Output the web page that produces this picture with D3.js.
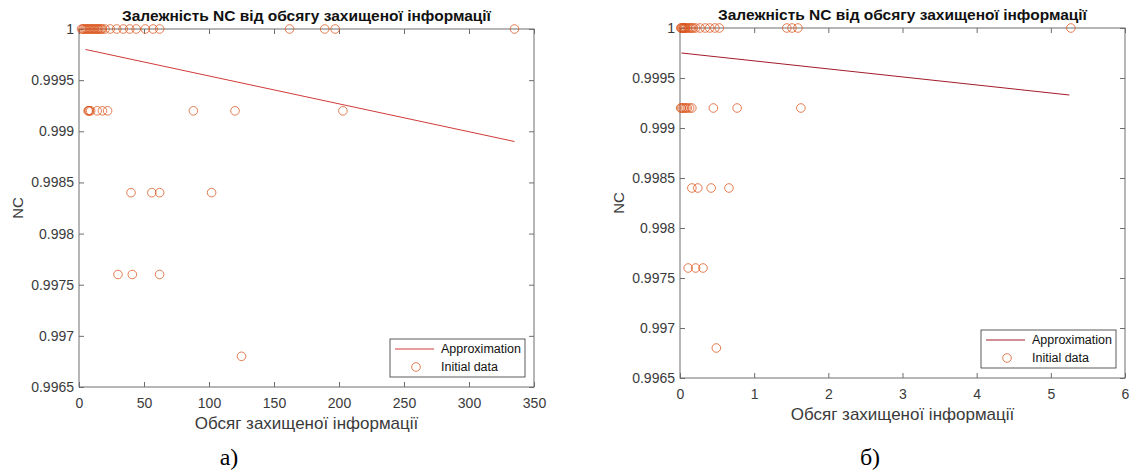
<!DOCTYPE html>
<html>
<head>
<meta charset="utf-8">
<script src="https://cdn.jsdelivr.net/npm/d3@7"></script>
<style>
  body { margin: 0; background: #fff; }
  text { font-family: "Liberation Sans", Arial, sans-serif; }
</style>
</head>
<body>
<svg id="chart" width="1131" height="472"></svg>
<script>
// data
var titleText = "Залежність NC від обсягу захищеної інформації";
var xLabelText = "Обсяг захищеної інформації";
var yLabelText = "NC";

// panel а)
var leftX = [2, 3, 4, 5, 6, 7, 8, 9, 10, 11, 12, 13, 14, 15, 16, 17, 18, 20, 24, 29, 34, 39, 44, 51, 57, 62, 162, 189, 197, 335,
             7, 7.5, 8, 9, 14, 18, 22, 88, 120, 203,
             40, 56, 62, 102,
             30, 41, 62,
             125];
var leftY = [1, 1, 1, 1, 1, 1, 1, 1, 1, 1, 1, 1, 1, 1, 1, 1, 1, 1, 1, 1, 1, 1, 1, 1, 1, 1, 1, 1, 1, 1,
             0.9992, 0.9992, 0.9992, 0.9992, 0.9992, 0.9992, 0.9992, 0.9992, 0.9992, 0.9992,
             0.9984, 0.9984, 0.9984, 0.9984,
             0.9976, 0.9976, 0.9976,
             0.9968];
var leftFitX = [5, 335];
var leftFitY = [0.99980, 0.99890];
var leftXTicks = [0, 50, 100, 150, 200, 250, 300, 350];

// panel б)
var rightX = [0.01, 0.02, 0.03, 0.04, 0.05, 0.06, 0.07, 0.08, 0.10, 0.12, 0.14, 0.16, 0.18, 0.21, 0.27, 0.34, 0.40, 0.47, 0.53, 1.44, 1.51, 1.59, 5.27,
              0.01, 0.02, 0.04, 0.06, 0.08, 0.10, 0.13, 0.16, 0.45, 0.77, 1.63,
              0.16, 0.24, 0.42, 0.66,
              0.11, 0.21, 0.31,
              0.49];
var rightY = [1, 1, 1, 1, 1, 1, 1, 1, 1, 1, 1, 1, 1, 1, 1, 1, 1, 1, 1, 1, 1, 1, 1,
              0.9992, 0.9992, 0.9992, 0.9992, 0.9992, 0.9992, 0.9992, 0.9992, 0.9992, 0.9992, 0.9992,
              0.9984, 0.9984, 0.9984, 0.9984,
              0.9976, 0.9976, 0.9976,
              0.9968];
var rightFitX = [0.02, 5.25];
var rightFitY = [0.99975, 0.99933];
var rightXTicks = [0, 1, 2, 3, 4, 5, 6];

var yTicks = [0.9965, 0.997, 0.9975, 0.998, 0.9985, 0.999, 0.9995, 1];
var legendNames = ["Approximation", "Initial data"];
var panelNames = ["а)", "б)"];

var svg = d3.select("#chart");
var axisColor = "#6e6e6e";
var textColor = "#3a3a3a";
var dotColor = "#D95319";

function drawPanel(cfg) {
  var x = d3.scaleLinear().domain(cfg.xDomain).range([cfg.left, cfg.right]);
  var y = d3.scaleLinear().domain([0.9965, 1]).range([cfg.bottom, cfg.top]);
  var g = svg.append("g");

  // box + ticks (MATLAB style, ticks inward on all sides)
  g.append("rect")
    .attr("x", cfg.left).attr("y", cfg.top)
    .attr("width", cfg.right - cfg.left).attr("height", cfg.bottom - cfg.top)
    .attr("fill", "none").attr("stroke", axisColor).attr("stroke-width", 1);

  var fmtY = function(v) { return String(+v.toFixed(4)); };

  var axB = d3.axisBottom(x).tickValues(cfg.xTicks).tickSize(-5).tickPadding(11).tickFormat(d3.format("d"));
  var axT = d3.axisTop(x).tickValues(cfg.xTicks).tickSize(-5).tickFormat("");
  var axL = d3.axisLeft(y).tickValues(yTicks).tickSize(-5).tickPadding(5).tickFormat(fmtY);
  var axR = d3.axisRight(y).tickValues(yTicks).tickSize(-5).tickFormat("");

  [[axB, "translate(0," + cfg.bottom + ")"], [axT, "translate(0," + cfg.top + ")"],
   [axL, "translate(" + cfg.left + ",0)"], [axR, "translate(" + cfg.right + ",0)"]].forEach(function(a) {
    var ax = g.append("g").attr("transform", a[1]).call(a[0]);
    ax.select(".domain").remove();
    ax.selectAll("line").attr("stroke", axisColor);
    ax.selectAll("text")
      .attr("fill", textColor)
      .style("font-size", "14px")
      .style("font-family", "Liberation Sans, Arial, sans-serif");
  });

  // fit line
  var line = d3.line().x(function(d) { return x(d[0]); }).y(function(d) { return y(d[1]); });
  g.append("path")
    .datum(d3.zip(cfg.fitX, cfg.fitY))
    .attr("d", line)
    .attr("fill", "none")
    .attr("stroke", cfg.lineColor)
    .attr("stroke-width", 1);

  // points
  g.selectAll("circle.pt")
    .data(d3.zip(cfg.xs, cfg.ys))
    .enter().append("circle")
    .attr("class", "pt")
    .attr("cx", function(d) { return x(d[0]); })
    .attr("cy", function(d) { return y(d[1]); })
    .attr("r", 4.3)
    .attr("fill", "none")
    .attr("stroke", dotColor)
    .attr("stroke-opacity", 0.75)
    .attr("stroke-width", 1);

  // title
  g.append("text")
    .attr("x", (cfg.left + cfg.right) / 2).attr("y", cfg.top - 8)
    .attr("text-anchor", "middle")
    .style("font-size", "15.5px").style("font-weight", "bold")
    .attr("fill", "#111")
    .text(titleText);

  // axis labels
  g.append("text")
    .attr("x", (cfg.left + cfg.right) / 2).attr("y", cfg.bottom + 42)
    .attr("text-anchor", "middle")
    .style("font-size", "17px").attr("fill", textColor)
    .text(xLabelText);

  g.append("text")
    .attr("transform", "translate(" + (cfg.left - 56) + "," + ((cfg.top + cfg.bottom) / 2) + ") rotate(-90)")
    .attr("text-anchor", "middle")
    .style("font-size", "15px").attr("fill", textColor)
    .text(yLabelText);

  // legend
  var lw = 135, lh = 38;
  var lx = cfg.right - 9 - lw, ly = cfg.bottom - 10 - lh;
  var lg = g.append("g").attr("transform", "translate(" + lx + "," + ly + ")");
  lg.append("rect").attr("width", lw).attr("height", lh)
    .attr("fill", "#fff").attr("stroke", "#333").attr("stroke-width", 0.8);
  lg.append("line").attr("x1", 5).attr("x2", 44).attr("y1", 10).attr("y2", 10)
    .attr("stroke", cfg.lineColor).attr("stroke-width", 1);
  lg.append("circle").attr("cx", 26).attr("cy", 28).attr("r", 4.3)
    .attr("fill", "none").attr("stroke", dotColor).attr("stroke-opacity", 0.75);
  lg.selectAll("text.lt").data(legendNames).enter().append("text")
    .attr("x", 51).attr("y", function(d, i) { return 14 + i * 18; })
    .style("font-size", "12.5px").attr("fill", "#111")
    .text(function(d) { return d; });

  // panel letter
  svg.append("text")
    .attr("x", cfg.letterX).attr("y", 465)
    .attr("text-anchor", "middle")
    .style("font-family", "Liberation Serif, Times New Roman, serif")
    .style("font-size", "24px").attr("fill", "#000")
    .text(cfg.letter);
}

drawPanel({ xs: leftX, ys: leftY, fitX: leftFitX, fitY: leftFitY, xDomain: [0, 350], xTicks: leftXTicks,
            left: 79, right: 534, top: 29, bottom: 387, lineColor: "#d23a3a", letter: panelNames[0], letterX: 229 });
drawPanel({ xs: rightX, ys: rightY, fitX: rightFitX, fitY: rightFitY, xDomain: [0, 6], xTicks: rightXTicks,
            left: 680, right: 1125, top: 28, bottom: 378, lineColor: "#a31c2a", letter: panelNames[1], letterX: 870 });
</script>
</body>
</html>
